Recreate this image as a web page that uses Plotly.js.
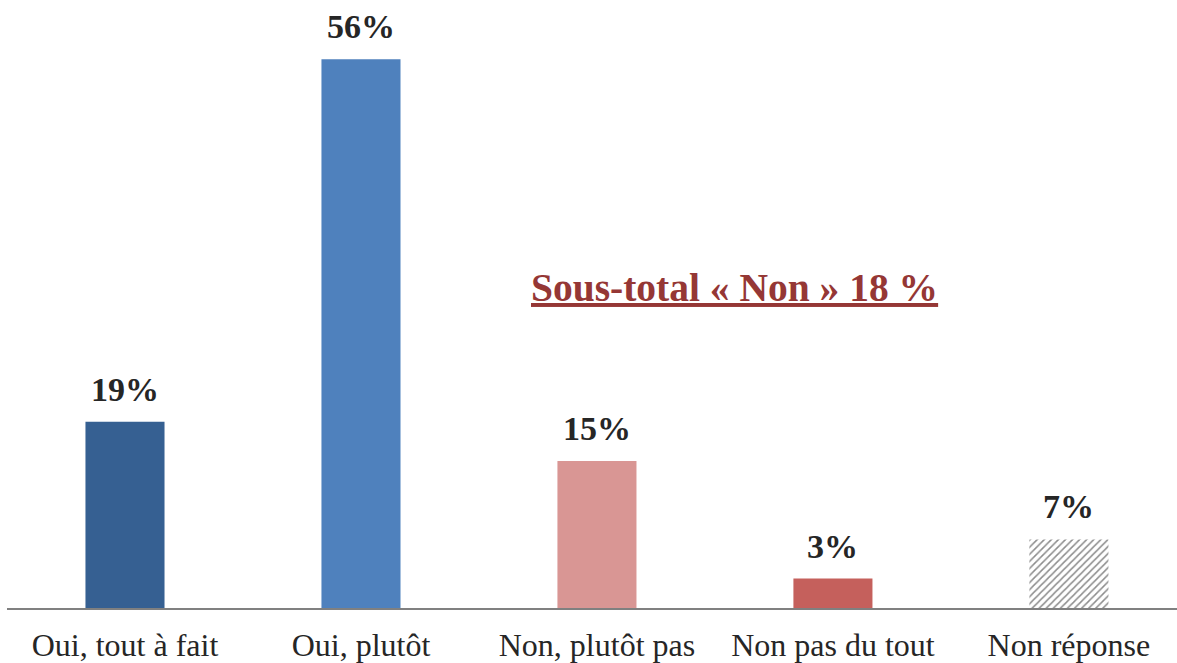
<!DOCTYPE html>
<html>
<head>
<meta charset="utf-8">
<script src="https://cdn.plot.ly/plotly-3.0.1.min.js"></script>
<style>
  html, body { margin: 0; padding: 0; background: #fff; }
  #chart { width: 1177px; height: 663px; }
</style>
</head>
<body>
<div id="chart"></div>
<script>
// réponses (%)
const categories = ['Oui, tout à fait', 'Oui, plutôt', 'Non, plutôt pas', 'Non pas du tout', 'Non réponse'];
const values = [19, 56, 15, 3, 7];
const barColors = ['#366092', '#4F81BD', '#D99694', '#C5605C'];
const hatchedIndex = 4; // "Non réponse" en hachuré
const subtotalText = 'Sous-total « Non » 18 %';

const serif = '"Liberation Serif", "DejaVu Serif", serif';

const solid = {
    type: 'bar',
    x: categories.slice(0, hatchedIndex),
    y: values.slice(0, hatchedIndex),
    width: 0.335,
    marker: { color: barColors, line: { width: 0 } },
    hoverinfo: 'skip'
};

const hatched = {
    type: 'bar',
    x: [categories[hatchedIndex]],
    y: [values[hatchedIndex]],
    width: 0.335,
    marker: {
        color: '#ffffff',
        line: { width: 0 },
        pattern: { shape: '/', fgcolor: '#8c8c8c', bgcolor: '#ffffff', size: 5, solidity: 0.3 }
    },
    hoverinfo: 'skip'
};

// étiquettes de valeurs au-dessus des barres
const labels = categories.map((c, i) => ({
    x: c,
    y: values[i],
    text: '<b>' + values[i] + '%</b>',
    showarrow: false,
    yanchor: 'bottom',
    yshift: 12,
    font: { family: serif, size: 34, color: '#262626' }
}));

labels.push({
    x: (734 - 7) / 1170,
    xref: 'paper',
    xanchor: 'center',
    y: (608 - 288) / 608,
    yref: 'paper',
    yanchor: 'middle',
    text: '<b><u>' + subtotalText + '</u></b>',
    showarrow: false,
    font: { family: serif, size: 39.5, color: '#953735' }
});

const layout = {
    width: 1177,
    height: 663,
    margin: { l: 7, r: 0, t: 0, b: 55 },
    paper_bgcolor: '#ffffff',
    plot_bgcolor: '#ffffff',
    showlegend: false,
    barmode: 'overlay',
    xaxis: {
        type: 'category',
        categoryorder: 'array',
        categoryarray: categories,
        range: [-0.5, 4.458],
        showline: true,
        linecolor: '#808080',
        linewidth: 2,
        ticks: '',
        ticklabelstandoff: 8,
        showgrid: false,
        zeroline: false,
        tickfont: { family: serif, size: 32, color: '#262626' },
        fixedrange: true
    },
    yaxis: {
        range: [0, 62.04],
        visible: false,
        showgrid: false,
        zeroline: false,
        fixedrange: true
    },
    annotations: labels
};

Plotly.newPlot('chart', [solid, hatched], layout, { displayModeBar: false });
</script>
</body>
</html>
